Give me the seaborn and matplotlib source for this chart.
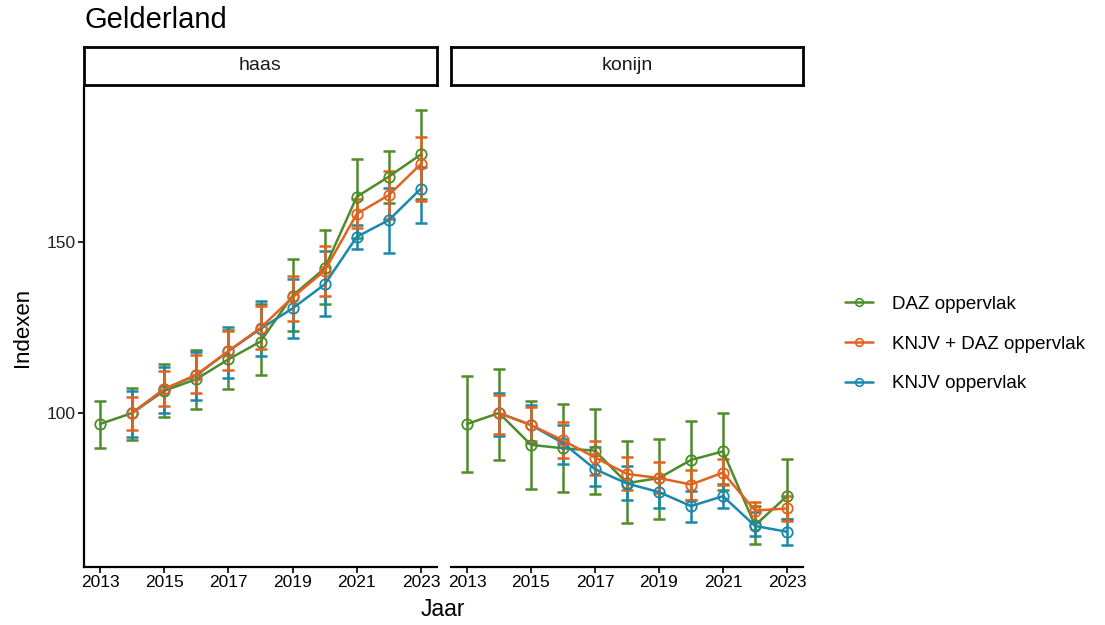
import numpy as np
import pandas as pd
import matplotlib.pyplot as plt
import seaborn as sns
from matplotlib.lines import Line2D

# Data (index, lower and upper bound)
years = list(range(2013, 2024))
series = ['DAZ oppervlak', 'KNJV + DAZ oppervlak', 'KNJV oppervlak']
colors = ['#4E8C2B', '#E2621E', '#1A88AA']
nan = np.nan

haas_daz = [96.8, 100, 106.5, 109.9, 115.7, 120.9, 134.3, 142.3, 163.2, 169.1, 175.6]
haas_daz_lo = [89.7, 92.2, 98.7, 101.2, 106.9, 111.0, 124.1, 131.9, 151.3, 161.3, 162.5]
haas_daz_hi = [103.6, 107.4, 114.2, 118.3, 124.4, 132.0, 145.0, 153.5, 174.2, 176.7, 188.6]

haas_comb = [nan, 100, 107.0, 111.2, 118.1, 124.9, 133.8, 141.6, 158.2, 163.7, 172.8]
haas_comb_lo = [nan, 94.9, 102.1, 106.0, 112.5, 118.8, 127.0, 134.3, 154.0, 156.7, 162.0]
haas_comb_hi = [nan, 104.7, 112.2, 117.0, 124.1, 131.2, 140.1, 148.8, 162.5, 170.6, 180.8]

haas_knjv = [nan, 100, 107.0, 111.0, 118.1, 124.6, 130.6, 137.6, 151.5, 156.4, 165.6]
haas_knjv_lo = [nan, 93.1, 99.9, 103.8, 110.1, 116.7, 122.0, 128.5, 148.0, 146.7, 155.4]
haas_knjv_hi = [nan, 106.5, 113.5, 117.9, 125.1, 132.6, 139.1, 147.4, 155.0, 165.8, 172.0]

konijn_daz = [96.8, 100, 90.7, 89.7, 89.0, 79.5, 81.0, 86.3, 88.8, 67.2, 75.7]
konijn_daz_lo = [82.8, 86.3, 77.8, 76.9, 76.2, 68.0, 69.1, 74.7, 77.6, 61.6, 68.9]
konijn_daz_hi = [110.8, 113.0, 103.6, 102.6, 101.2, 91.7, 92.4, 97.8, 99.9, 72.8, 86.5]

konijn_comb = [nan, 100, 96.5, 92.0, 87.0, 82.2, 81.0, 79.1, 82.6, 71.5, 72.1]
konijn_comb_lo = [nan, 93.9, 91.7, 86.8, 82.0, 77.4, 76.6, 74.7, 79.1, 68.4, 68.4]
konijn_comb_hi = [nan, 105.4, 101.8, 97.5, 91.9, 87.1, 85.7, 83.4, 86.5, 74.0, 75.7]

konijn_knjv = [nan, 100, 96.5, 91.2, 83.6, 79.4, 76.9, 72.8, 75.7, 67.0, 65.3]
konijn_knjv_lo = [nan, 93.4, 91.2, 85.2, 78.6, 74.5, 72.3, 68.2, 72.1, 64.1, 61.4]
konijn_knjv_hi = [nan, 105.9, 102.3, 96.5, 90.0, 84.4, 81.0, 77.1, 79.3, 71.0, 68.9]

panels = {
    'haas': [(haas_daz, haas_daz_lo, haas_daz_hi),
             (haas_comb, haas_comb_lo, haas_comb_hi),
             (haas_knjv, haas_knjv_lo, haas_knjv_hi)],
    'konijn': [(konijn_daz, konijn_daz_lo, konijn_daz_hi),
               (konijn_comb, konijn_comb_lo, konijn_comb_hi),
               (konijn_knjv, konijn_knjv_lo, konijn_knjv_hi)],
}

rows = []
for soort, sets in panels.items():
    for name, (v, lo, hi) in zip(series, sets):
        for y, a, b, c in zip(years, v, lo, hi):
            rows.append({'soort': soort, 'bron': name, 'Jaar': y,
                         'index': a, 'lo': b, 'hi': c})
df = pd.DataFrame(rows).dropna()

sns.set_style("white")
plt.rcParams['font.family'] = ['Liberation Sans', 'DejaVu Sans']
plt.rcParams['text.color'] = 'black'

W, H = 1105, 625
fig = plt.figure(figsize=(W / 100, H / 100), dpi=100)

def box(x0, y0, x1, y1):
    return [x0 / W, 1 - y1 / H, (x1 - x0) / W, (y1 - y0) / H]

ax_l = fig.add_axes(box(84, 88, 437, 567))
ax_r = fig.add_axes(box(451, 88, 803, 567), sharey=ax_l)

draw_order = [0, 2, 1]
for ax, soort in [(ax_l, 'haas'), (ax_r, 'konijn')]:
    sub = df[df['soort'] == soort]
    for i in draw_order:
        d = sub[sub['bron'] == series[i]]
        ax.errorbar(d['Jaar'], d['index'],
                    yerr=[d['index'] - d['lo'], d['hi'] - d['index']],
                    fmt='none', ecolor=colors[i], elinewidth=1.8,
                    capsize=4.5, capthick=1.8, zorder=2)
        sns.lineplot(data=d, x='Jaar', y='index', ax=ax, color=colors[i],
                     linewidth=1.8, marker='o', markersize=7.5,
                     mfc='none', mec=colors[i], mew=1.3, zorder=3)
    ax.set_xlim(2012.5, 2023.5)
    ax.set_xticks([2013, 2015, 2017, 2019, 2021, 2023])
    ax.set_xlabel('')
    ax.set_ylabel('')
    for s in ['top', 'right']:
        ax.spines[s].set_visible(False)
    ax.spines['bottom'].set_linewidth(1.6)
    ax.spines['bottom'].set_color('black')
    ax.tick_params(axis='x', length=4, width=1.2, color='black',
                   labelsize=12.5, labelcolor='black', pad=2,
                   bottom=True)

ax_l.set_ylim(55, 195)
ax_l.set_yticks([100, 150])
ax_l.spines['left'].set_linewidth(1.6)
ax_l.spines['left'].set_color('black')
ax_l.tick_params(axis='y', length=4, width=1.2, color='black',
                 labelsize=12.5, labelcolor='#222222', left=True, pad=2)
ax_r.spines['left'].set_visible(False)
ax_r.tick_params(axis='y', left=False, labelleft=False)

# facet strips
for (x0, x1), label in [((84, 437), 'haas'), ((451, 803), 'konijn')]:
    sax = fig.add_axes(box(x0, 47, x1, 85))
    sax.set_xticks([])
    sax.set_yticks([])
    sax.set_facecolor('white')
    for s in sax.spines.values():
        s.set_linewidth(2)
        s.set_color('black')
    sax.text(0.5, 0.5, label, ha='center', va='center', fontsize=14,
             color='#1a1a1a', transform=sax.transAxes)

fig.text(84 / W, 1 - 6 / H, 'Gelderland', ha='left', va='top', fontsize=21)
fig.text(22 / W, 1 - 327 / H, 'Indexen', ha='center', va='center',
         rotation=90, fontsize=16)
fig.text(443 / W, 1 - 609 / H, 'Jaar', ha='center', va='center', fontsize=16.5)

handles = [Line2D([0], [0], color=c, lw=1.8, marker='o', markersize=5.5,
                  mfc='none', mec=c, mew=1.2) for c in colors]
fig.legend(handles, series, loc='center left',
           bbox_to_anchor=(828 / W, 1 - 344 / H), frameon=False,
           fontsize=13.5, handlelength=1.5, handletextpad=1.0,
           labelspacing=1.2)

fig.savefig('out.png', dpi=100)
